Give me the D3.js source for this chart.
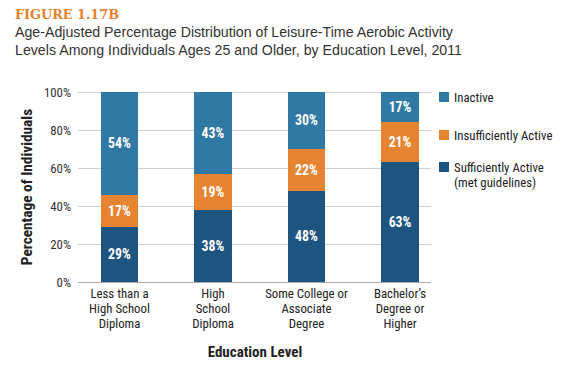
<!DOCTYPE html>
<html>
<head>
<meta charset="utf-8">
<script src="https://cdn.jsdelivr.net/npm/d3@7"></script>
<style>
  body { margin: 0; background: #fff; }
  svg { display: block; }
  .narrow { font-family: 'Liberation Sans Narrow', 'Roboto Condensed', 'Liberation Sans', sans-serif; }
</style>
</head>
<body>
<div class="chart"></div>
<script>
// Data
const categories = [
    ['Less than a', 'High School', 'Diploma'],
    ['High', 'School', 'Diploma'],
    ['Some College or', 'Associate', 'Degree'],
    ['Bachelor\u2019s', 'Degree or', 'Higher'],
]
const sufficient = [29, 38, 48, 63]
const insufficient = [17, 19, 22, 21]
const inactive = [54, 43, 30, 17]

const seriesNames = ['Sufficiently Active', 'Insufficiently Active', 'Inactive']
const yTicks = [0, 20, 40, 60, 80, 100]

const colors = ['#1e5580', '#e68431', '#3079a5']

/* Configuration */
const width = 586
const height = 372
const selector = '.chart'

const svg = d3
    .select(selector)
    .append('svg')
    .attr('width', width)
    .attr('height', height)

// Titles
svg.append('text')
    .attr('x', 15)
    .attr('y', 18.5)
    .attr('fill', '#e8802c')
    .attr('font-family', 'DejaVu Serif')
    .attr('font-weight', 'bold')
    .attr('font-size', 12.8)
    .text('FIGURE 1.17B')

const subtitle = [
    'Age-Adjusted Percentage Distribution of Leisure-Time Aerobic Activity',
    'Levels Among Individuals Ages 25 and Older, by Education Level, 2011',
]
svg.append('g')
    .selectAll('text')
    .data(subtitle)
    .join('text')
    .attr('x', 15)
    .attr('y', (d, i) => 37 + i * 18)
    .attr('fill', '#333')
    .attr('font-family', 'Liberation Sans, Arial, sans-serif')
    .attr('font-size', 14.2)
    .text(d => d)

// Scales
const y = d3.scaleLinear().domain([0, 100]).range([282, 92]).clamp(true)
const x = d3
    .scaleBand()
    .domain(d3.range(categories.length))
    .range([79, 440.5])
    .paddingInner(0.604)
    .paddingOuter(0.235)

// Gridlines
svg.append('g')
    .selectAll('line')
    .data(yTicks)
    .join('line')
    .attr('x1', 78)
    .attr('x2', 431)
    .attr('y1', d => Math.round(y(d)) + 0.5)
    .attr('y2', d => Math.round(y(d)) + 0.5)
    .attr('stroke', d => (d === 0 ? '#aaa' : '#cfcfcf'))
    .attr('stroke-width', 1)

// Y tick labels
svg.append('g')
    .attr('class', 'narrow')
    .selectAll('text')
    .data(yTicks)
    .join('text')
    .attr('x', 71)
    .attr('y', d => y(d))
    .attr('dy', '0.36em')
    .attr('text-anchor', 'end')
    .attr('font-size', 12.8)
    .attr('fill', '#333')
    .text(d => d + '%')

// Stack
const rows = categories.map((c, i) => ({
    i: i,
    s0: sufficient[i],
    s1: insufficient[i],
    s2: inactive[i],
}))
const stack = d3.stack().keys(['s0', 's1', 's2'])(rows)

const layers = svg
    .append('g')
    .selectAll('g')
    .data(stack)
    .join('g')
    .attr('fill', (d, i) => colors[i])

layers
    .selectAll('rect')
    .data(d => d)
    .join('rect')
    .attr('shape-rendering', 'crispEdges')
    .attr('x', d => x(d.data.i))
    .attr('width', x.bandwidth())
    .attr('y', d => y(d[1]))
    .attr('height', d => y(d[0]) - y(d[1]))

layers
    .selectAll('text')
    .data(d => d)
    .join('text')
    .attr('class', 'narrow')
    .attr('x', d => x(d.data.i) + x.bandwidth() / 2)
    .attr('y', d => (y(d[0]) + y(d[1])) / 2)
    .attr('dy', '0.36em')
    .attr('text-anchor', 'middle')
    .attr('fill', '#fff')
    .attr('font-weight', 'bold')
    .attr('font-size', 13.8)
    .text(d => Math.round(d[1] - d[0]) + '%')

// X labels
const xLabels = svg
    .append('g')
    .attr('class', 'narrow')
    .selectAll('text')
    .data(categories)
    .join('text')
    .attr('text-anchor', 'middle')
    .attr('font-size', 12.8)
    .attr('fill', '#222')

xLabels
    .selectAll('tspan')
    .data((d, i) => d.map(t => ({ t: t, i: i })))
    .join('tspan')
    .attr('x', d => x(d.i) + x.bandwidth() / 2)
    .attr('y', (d, j) => 298 + j * 15)
    .text(d => d.t)

// Axis titles
svg.append('text')
    .attr('class', 'narrow')
    .attr('x', 255)
    .attr('y', 357)
    .attr('text-anchor', 'middle')
    .attr('font-weight', 'bold')
    .attr('font-size', 15)
    .attr('fill', '#222')
    .text('Education Level')

svg.append('text')
    .attr('class', 'narrow')
    .attr('transform', 'translate(32, 187) rotate(-90)')
    .attr('text-anchor', 'middle')
    .attr('font-weight', 'bold')
    .attr('font-size', 15.3)
    .attr('fill', '#222')
    .text('Percentage of Individuals')

// Legend
const legendItems = [
    { name: ['Inactive'], color: colors[2], y: 92 },
    { name: ['Insufficiently Active'], color: colors[1], y: 130 },
    { name: ['Sufficiently Active', '(met guidelines)'], color: colors[0], y: 162 },
]
const legend = svg
    .append('g')
    .attr('class', 'narrow')
    .selectAll('g')
    .data(legendItems)
    .join('g')
    .attr('transform', d => `translate(439, ${d.y})`)

legend.append('rect')
    .attr('width', 10)
    .attr('height', 10)
    .attr('fill', d => d.color)

legend.append('text')
    .attr('font-size', 12.8)
    .attr('fill', '#222')
    .selectAll('tspan')
    .data(d => d.name)
    .join('tspan')
    .attr('x', 15)
    .attr('y', (d, i) => 9.5 + i * 15)
    .text(d => d)
</script>
</body>
</html>
